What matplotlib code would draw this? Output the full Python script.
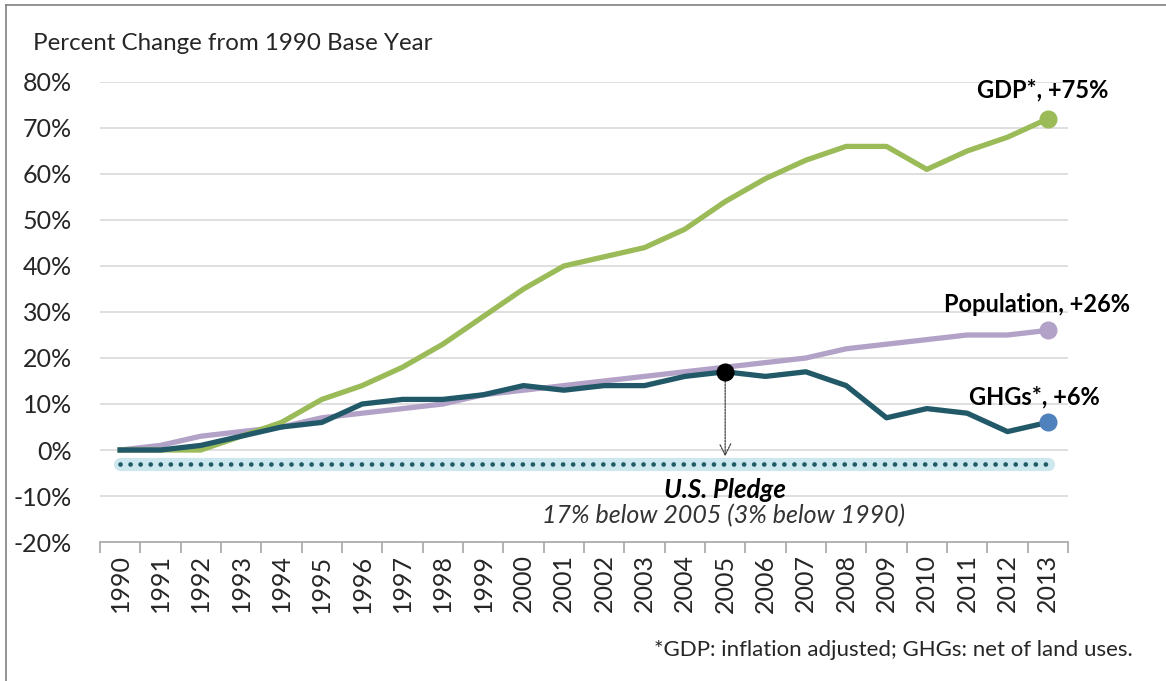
import matplotlib
matplotlib.use("Agg")
import matplotlib.pyplot as plt
from matplotlib.lines import Line2D

years = list(range(1990, 2014))
gdp = [0, 0, 0, 3, 6, 11, 14, 18, 23, 29, 35, 40, 42, 44, 48, 54, 59, 63, 66, 66, 61, 65, 68, 72]
population = [0, 1, 3, 4, 5, 7, 8, 9, 10, 12, 13, 14, 15, 16, 17, 18, 19, 20, 22, 23, 24, 25, 25, 26]
ghgs = [0, 0, 1, 3, 5, 6, 10, 11, 11, 12, 14, 13, 14, 14, 16, 17, 16, 17, 14, 7, 9, 8, 4, 6]
pledge = -3
yticks = [-20, -10, 0, 10, 20, 30, 40, 50, 60, 70, 80]

plt.rcParams['font.family'] = ['Lato', 'DejaVu Sans']

W, H = 1166, 681
fig = plt.figure(figsize=(W / 100, H / 100), dpi=100)
ax = fig.add_axes([100 / W, 1 - 542 / H, 968 / W, (542 - 82) / H])

x = list(range(len(years)))
ax.set_xlim(-0.5, len(years) - 0.5)
ax.set_ylim(-20, 80)

for t in yticks[1:]:
    ax.axhline(t, color='#d9d9d9', lw=1.2, zorder=0)

# pledge line
ax.plot([x[0], x[-1]], [pledge, pledge], color='#cde7ef', lw=9.5, solid_capstyle='round', zorder=1)
ax.plot([x[0], x[-1]], [pledge, pledge], color='#215b66', lw=3.4, linestyle=(0, (0.01, 2.12)),
        dash_capstyle='round', zorder=2)

ax.plot(x, population, color='#b3a2c7', lw=3.8, zorder=3, solid_joinstyle='round')
ax.plot(x, gdp, color='#9bbb59', lw=3.8, zorder=4, solid_joinstyle='round')
ax.plot(x, ghgs, color='#215968', lw=3.8, zorder=5, solid_joinstyle='round')

ax.plot(x[-1], gdp[-1], 'o', color='#9bbb59', ms=12, zorder=6)
ax.plot(x[-1], population[-1], 'o', color='#b3a2c7', ms=12, zorder=6)
ax.plot(x[-1], ghgs[-1], 'o', color='#4f81bd', ms=12, zorder=6)

i05 = years.index(2005)
ax.plot(x[i05], ghgs[i05], 'o', color='black', ms=12, zorder=7)
ax.annotate('', xy=(x[i05], pledge + 1.0), xytext=(x[i05], ghgs[i05]),
            arrowprops=dict(arrowstyle='->', color='#404040', lw=0.9, linestyle=(0, (1.5, 1)),
                            mutation_scale=20), zorder=6)

ax.text(22.88, 78.3, 'GDP*, +75%', fontsize=17, fontweight='bold', ha='center', va='center')
ax.text(22.73, 31.7, 'Population, +26%', fontsize=17, fontweight='bold', ha='center', va='center')
ax.text(22.66, 11.5, 'GHGs*, +6%', fontsize=17, fontweight='bold', ha='center', va='center')

ax.text(x[i05], -8.8, 'U.S. Pledge', fontsize=18.5, fontweight='bold', style='italic', ha='center', va='center')
ax.text(x[i05] - 0.05, -14.2, '17% below 2005 (3% below 1990)', fontsize=18, style='italic',
        ha='center', va='center', color='#333333')

ax.set_yticks(yticks)
ax.set_yticklabels([f'{t}%' for t in yticks], fontsize=18, color='#262626')
ax.tick_params(axis='y', length=0, pad=20)
ax.set_xticks(x)
ax.set_xticklabels([str(y) for y in years], rotation=90, fontsize=18, color='#262626')
ax.tick_params(axis='x', length=0, pad=9)
ax.set_xticks([i - 0.5 for i in range(len(years) + 1)], minor=True)
ax.tick_params(axis='x', which='minor', length=8, color='#a6a6a6', width=1.2, direction='out')

for s in ['top', 'right', 'left']:
    ax.spines[s].set_visible(False)
ax.spines['bottom'].set_color('#a6a6a6')
ax.spines['bottom'].set_linewidth(1.2)

fig.text(33 / W, 1 - 43 / H, 'Percent Change from 1990 Base Year', fontsize=17.4, va='center', ha='left', color='#262626')
fig.text(1133 / W, 1 - 650 / H, '*GDP: inflation adjusted; GHGs: net of land uses.', fontsize=16,
         va='center', ha='right', color='#262626')

# chart border (left and top)
fig.add_artist(Line2D([6 / W, 6 / W], [0, 1 - 5 / H], color='#808080', lw=1.2, transform=fig.transFigure))
fig.add_artist(Line2D([6 / W, 1], [1 - 5 / H, 1 - 5 / H], color='#808080', lw=1.2, transform=fig.transFigure))

fig.savefig('out.png', dpi=100)
